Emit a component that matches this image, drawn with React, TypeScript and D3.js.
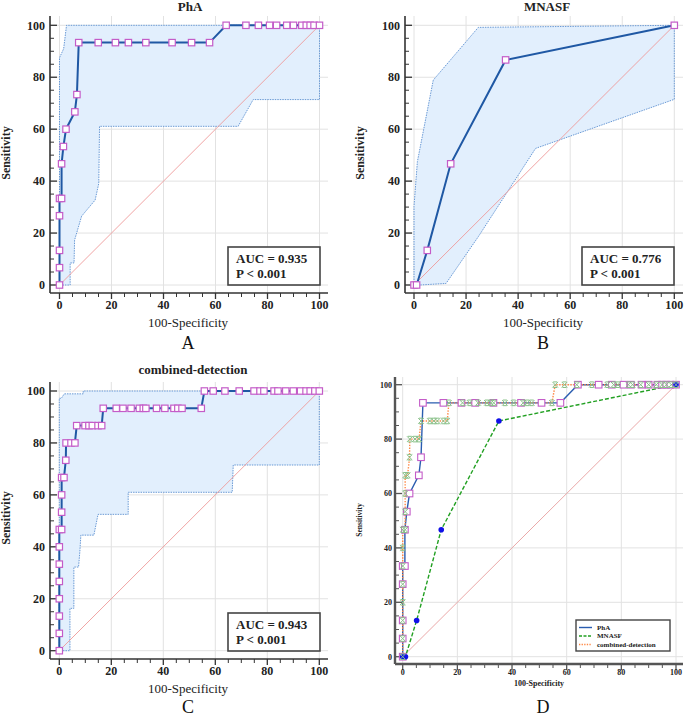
import React from "react";
import * as d3 from "d3";

// ---------- data ----------
const majorTicks = [0, 20, 40, 60, 80, 100];
const minorTicks = [5, 10, 15, 25, 30, 35, 45, 50, 55, 65, 70, 75, 85, 90, 95];

const phaX = [0, 0, 0, 0, 0, 0.8, 0.8, 1.5, 2.5, 5.9, 6.7, 7.4, 14.9, 21.5, 26.5, 33.2, 43.3, 50.8, 57.7, 64.1, 71.7, 76.5, 80.8, 83.5, 87.4, 90.0, 93.2, 94.9, 96.4, 97.9, 100];
const phaY = [0, 6.67, 13.33, 26.67, 33.33, 33.33, 46.67, 53.33, 60, 66.67, 73.33, 93.33, 93.33, 93.33, 93.33, 93.33, 93.33, 93.33, 93.33, 100, 100, 100, 100, 100, 100, 100, 100, 100, 100, 100, 100];
const phaUpperX = [0, 0, 1.6, 2.7, 100];
const phaUpperY = [0, 87.5, 91, 100, 100];
const phaLowerX = [100, 100, 74.5, 68.7, 15.4, 15.1, 13.7, 8.5, 5.8, 5.6, 4.1, 4.1, 0];
const phaLowerY = [100, 71.4, 71.4, 61.1, 61.1, 39.1, 32.7, 26.5, 17.3, 8.5, 8.5, 0, 0];

const mnasfX = [0, 1, 5.1, 14.1, 35.2, 100];
const mnasfY = [0, 0, 13.33, 46.67, 86.67, 100];
const mnasfUpperX = [0, 0, 1.3, 7.4, 24.7, 100];
const mnasfUpperY = [0, 30.2, 47.5, 78.9, 99.2, 100];
const mnasfLowerX = [100, 100, 46.7, 24.7, 12.3, 2.3, 0];
const mnasfLowerY = [100, 71.5, 52.6, 18.6, 0.6, 0, 0];

const combX = [0, 0, 0, 0, 0, 0, 0, 0, 0.9, 0.9, 0.9, 0.9, 1.8, 2.5, 2.6, 4.5, 6.0, 6.7, 9.9, 11.4, 12.7, 14.9, 16.3, 16.9, 21.9, 24.5, 27.6, 30.8, 32.3, 33.3, 37.4, 40.6, 44.1, 45.6, 47.2, 54.6, 55.8, 59.2, 63.7, 69.2, 74.9, 77.2, 78.7, 82.6, 84.1, 87.1, 90.0, 92.8, 94.9, 96.5, 98.3, 100];
const combY = [0, 6.67, 13.33, 20, 26.67, 33.33, 40, 46.67, 46.67, 53.33, 60, 66.67, 66.67, 73.33, 80, 80, 80, 86.67, 86.67, 86.67, 86.67, 86.67, 86.67, 93.33, 93.33, 93.33, 93.33, 93.33, 93.33, 93.33, 93.33, 93.33, 93.33, 93.33, 93.33, 93.33, 100, 100, 100, 100, 100, 100, 100, 100, 100, 100, 100, 100, 100, 100, 100, 100];
const combUpperX = [0, 0, 0.8, 1.9, 9.2, 9.2, 100];
const combUpperY = [0, 97.2, 97.2, 98.9, 98.9, 100, 100];
const combLowerX = [100, 100, 66.9, 66.5, 26.5, 26.5, 14.9, 13.3, 8.3, 7.9, 7.4, 5.6, 5.6, 4.1, 4.1, 0];
const combLowerY = [100, 71.5, 71.5, 61, 61, 52.5, 52.5, 44.5, 44.5, 38.1, 32.2, 32.2, 16.3, 16.3, 0, 0];

const aucTexts = ["AUC = 0.935", "AUC = 0.776", "AUC = 0.943"];
const pTexts = ["P < 0.001", "P < 0.001", "P < 0.001"];
const seriesNames = ["PhA", "MNASF", "combined-detection"];

const FONT = "'Liberation Serif','Times New Roman',serif";

type Pt = [number, number];
const zip = (xs: number[], ys: number[]): Pt[] => xs.map((v, i) => [v, ys[i]]);

type Frame = { left: number; right: number; top: number; bottom: number; x0: number; x1: number; y0: number; y1: number };

function Axes({ f, small }: { f: Frame; small?: boolean }) {
  const x = d3.scaleLinear().domain([0, 100]).range([f.x0, f.x1]);
  const y = d3.scaleLinear().domain([0, 100]).range([f.y0, f.y1]);
  const fs = small ? 8 : 12;
  const axisColor = small ? "#555" : "#333";
  const aw = small ? 2.4 : 1.6;
  return (
    <g>
      {majorTicks.map((t) => (
        <g key={"g" + t}>
          <line x1={x(t)} x2={x(t)} y1={f.top} y2={f.bottom} stroke="#e2e2e2" strokeWidth={1} />
          <line x1={f.left} x2={f.right} y1={y(t)} y2={y(t)} stroke="#e2e2e2" strokeWidth={1} />
        </g>
      ))}
      <line x1={f.left} x2={f.left} y1={f.top} y2={f.bottom} stroke={axisColor} strokeWidth={aw} />
      <line x1={f.left} x2={f.right} y1={f.bottom} y2={f.bottom} stroke={axisColor} strokeWidth={aw} />
      {minorTicks.map((t) => (
        <g key={"m" + t}>
          <line x1={f.left} x2={f.left + 4} y1={y(t)} y2={y(t)} stroke={axisColor} strokeWidth={1} />
          <line x1={x(t)} x2={x(t)} y1={f.bottom} y2={f.bottom + 4} stroke={axisColor} strokeWidth={1} />
        </g>
      ))}
      {majorTicks.map((t) => (
        <g key={"t" + t}>
          <line x1={f.left} x2={f.left + 7} y1={y(t)} y2={y(t)} stroke={axisColor} strokeWidth={1.3} />
          <line x1={x(t)} x2={x(t)} y1={f.bottom} y2={f.bottom + 6} stroke={axisColor} strokeWidth={1.3} />
          <text x={f.left - (small ? 3 : 5)} y={y(t)} dy="0.35em" textAnchor="end" fontFamily={FONT} fontWeight="bold" fontSize={fs} fill="#222">{t}</text>
          <text x={x(t)} y={f.bottom + (small ? 11 : 16)} textAnchor="middle" fontFamily={FONT} fontWeight="bold" fontSize={fs} fill="#222">{t}</text>
        </g>
      ))}
    </g>
  );
}

function SinglePanel({ f, xs, ys, ux, uy, lx, ly, title, titleX, titleY, yLabelX, yLabelY, xLabelX, xLabelY, letter, letterY, box, auc, p }: any) {
  const x = d3.scaleLinear().domain([0, 100]).range([f.x0, f.x1]);
  const y = d3.scaleLinear().domain([0, 100]).range([f.y0, f.y1]);
  const line = d3.line<Pt>().x((d) => x(d[0])).y((d) => y(d[1]));
  const band = [...zip(ux, uy), ...zip(lx, ly)];
  const pts = zip(xs, ys);
  return (
    <g>
      <Axes f={f} />
      <path d={line(band) + "Z"} fill="#e2effd" stroke="none" />
      <path d={line(zip(ux, uy)) || ""} fill="none" stroke="#5a8fd0" strokeWidth={0.9} strokeDasharray="1.5,1" />
      <path d={line(zip(lx, ly)) || ""} fill="none" stroke="#5a8fd0" strokeWidth={0.9} strokeDasharray="1.5,1" />
      <line x1={x(0)} y1={y(0)} x2={x(100)} y2={y(100)} stroke="#ee9a9a" strokeWidth={0.9} />
      <path d={line(pts) || ""} fill="none" stroke="#1f58a4" strokeWidth={2} />
      {pts.map((d, i) => (
        <rect key={i} x={x(d[0]) - 3.2} y={y(d[1]) - 3.2} width={6.4} height={6.4} fill="#fff" stroke="#c45cc8" strokeWidth={1.2} />
      ))}
      <text x={titleX} y={titleY} textAnchor="middle" fontFamily={FONT} fontWeight="bold" fontSize={13} fill="#222">{title}</text>
      <text transform={`translate(${yLabelX},${yLabelY}) rotate(-90)`} textAnchor="middle" fontFamily={FONT} fontWeight="bold" fontSize={12} fill="#222">Sensitivity</text>
      <text x={xLabelX} y={xLabelY} textAnchor="middle" fontFamily={FONT} fontSize={13} fill="#222">100-Specificity</text>
      <text x={xLabelX} y={letterY} textAnchor="middle" fontFamily={FONT} fontSize={18} fill="#111">{letter}</text>
      <rect x={box[0]} y={box[1]} width={box[2] - box[0]} height={box[3] - box[1]} fill="#fff" stroke="#444" strokeWidth={1.6} />
      <text x={box[0] + 8} y={box[1] + 16} fontFamily={FONT} fontWeight="bold" fontSize={13} fill="#222">{auc}</text>
      <text x={box[0] + 8} y={box[1] + 31} fontFamily={FONT} fontWeight="bold" fontSize={13} fill="#222">{p}</text>
    </g>
  );
}

function ComparePanel() {
  const f: Frame = { left: 395, right: 683, top: 377, bottom: 664, x0: 402.7, x1: 676, y0: 656.7, y1: 384.7 };
  const x = d3.scaleLinear().domain([0, 100]).range([f.x0, f.x1]);
  const y = d3.scaleLinear().domain([0, 100]).range([f.y0, f.y1]);
  const line = d3.line<Pt>().x((d) => x(d[0])).y((d) => y(d[1]));
  const pha = zip(phaX, phaY);
  const mn = zip(mnasfX, mnasfY);
  const cb = zip(combX, combY);
  const lg = { x0: 576, y0: 620, x1: 670, y1: 651 };
  return (
    <g>
      <Axes f={f} small />
      <line x1={x(0)} y1={y(0)} x2={x(100)} y2={y(100)} stroke="#eaa8a8" strokeWidth={1} />
      <path d={line(pha) || ""} fill="none" stroke="#2a5db0" strokeWidth={1.4} />
      <path d={line(mn) || ""} fill="none" stroke="#22a022" strokeWidth={1.4} strokeDasharray="4,2" />
      <path d={line(cb) || ""} fill="none" stroke="#ff8844" strokeWidth={1.4} strokeDasharray="1.4,1.4" />
      {pha.map((d, i) => (
        <rect key={"p" + i} x={x(d[0]) - 3.3} y={y(d[1]) - 3.3} width={6.6} height={6.6} fill="#fff" stroke="#c45cc8" strokeWidth={1.1} />
      ))}
      {mn.map((d, i) => (
        <circle key={"c" + i} cx={x(d[0])} cy={y(d[1])} r={2.8} fill="#1010e8" />
      ))}
      {cb.map((d, i) => {
        const cx = x(d[0]);
        const cy = y(d[1]);
        const s = 2.8;
        return (
          <path key={"x" + i} d={`M${cx - s},${cy - s}L${cx + s},${cy + s}M${cx + s},${cy - s}L${cx - s},${cy + s}M${cx - 2},${cy - s}L${cx + 2},${cy - s}M${cx - 2},${cy + s}L${cx + 2},${cy + s}`} stroke="#88c088" strokeWidth={1} fill="none" />
        );
      })}
      <text transform={`translate(362,520) rotate(-90)`} textAnchor="middle" fontFamily={FONT} fontWeight="bold" fontSize={7.5} fill="#222">Sensitivity</text>
      <text x={539} y={686} textAnchor="middle" fontFamily={FONT} fontWeight="bold" fontSize={8} fill="#222">100-Specificity</text>
      <text x={543} y={713} textAnchor="middle" fontFamily={FONT} fontSize={18} fill="#111">D</text>
      <rect x={lg.x0} y={lg.y0} width={lg.x1 - lg.x0} height={lg.y1 - lg.y0} fill="#fff" stroke="#444" strokeWidth={1.4} />
      {seriesNames.map((n, i) => {
        const yy = lg.y0 + 7.5 + i * 8.5;
        const st = i === 0 ? { stroke: "#2a5db0" } : i === 1 ? { stroke: "#22a022", strokeDasharray: "3,1.5" } : { stroke: "#ff8844", strokeDasharray: "1.3,1.3" };
        return (
          <g key={n}>
            <line x1={579} x2={592} y1={yy} y2={yy} strokeWidth={1.4} {...st} />
            <text x={597} y={yy} dy="0.35em" fontFamily={FONT} fontWeight="bold" fontSize={7} fill="#222">{n}</text>
          </g>
        );
      })}
    </g>
  );
}

export default function App() {
  const fA: Frame = { left: 50, right: 328, top: 16, bottom: 293, x0: 59.5, x1: 319.5, y0: 285, y1: 25.3 };
  const fB: Frame = { left: 405, right: 683, top: 16, bottom: 293, x0: 414, x1: 674.3, y0: 285, y1: 25.3 };
  const fC: Frame = { left: 50, right: 328, top: 382, bottom: 659, x0: 59.3, x1: 319.3, y0: 650.7, y1: 391 };
  return (
    <svg width={685} height={717} style={{ position: "absolute", left: 0, top: 0, background: "#fff" }}>
      <rect x={0} y={0} width={685} height={717} fill="#fff" />
      <SinglePanel f={fA} xs={phaX} ys={phaY} ux={phaUpperX} uy={phaUpperY} lx={phaLowerX} ly={phaLowerY}
        title={seriesNames[0]} titleX={190} titleY={11} yLabelX={10} yLabelY={153} xLabelX={188} xLabelY={327}
        letter="A" letterY={349} box={[228, 247, 320, 285]} auc={aucTexts[0]} p={pTexts[0]} />
      <SinglePanel f={fB} xs={mnasfX} ys={mnasfY} ux={mnasfUpperX} uy={mnasfUpperY} lx={mnasfLowerX} ly={mnasfLowerY}
        title={seriesNames[1]} titleX={547} titleY={11} yLabelX={364} yLabelY={153} xLabelX={543} xLabelY={327}
        letter="B" letterY={349} box={[582, 247, 674, 285]} auc={aucTexts[1]} p={pTexts[1]} />
      <SinglePanel f={fC} xs={combX} ys={combY} ux={combUpperX} uy={combUpperY} lx={combLowerX} ly={combLowerY}
        title={seriesNames[2]} titleX={193} titleY={374} yLabelX={10} yLabelY={518} xLabelX={188} xLabelY={693}
        letter="C" letterY={713} box={[228, 613, 320, 651]} auc={aucTexts[2]} p={pTexts[2]} />
      <ComparePanel />
    </svg>
  );
}
